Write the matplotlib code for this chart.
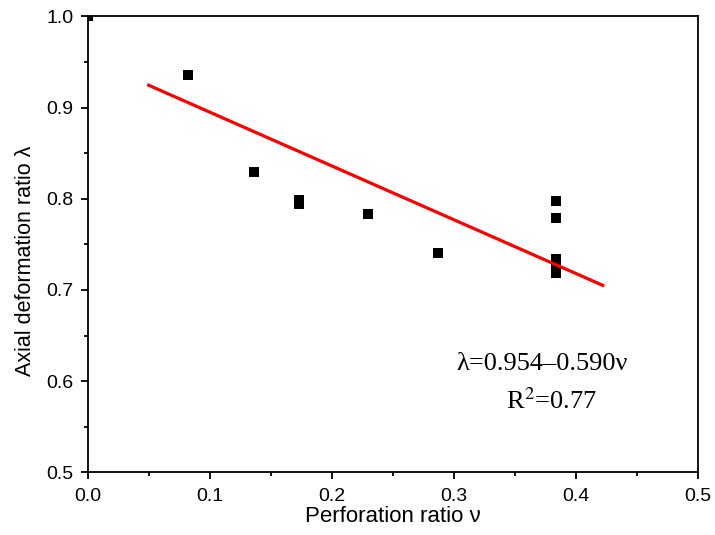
import matplotlib
matplotlib.use("Agg")
import matplotlib.pyplot as plt
import numpy as np
from matplotlib.ticker import MultipleLocator

# measured points (perforation ratio, axial deformation ratio)
nu = [0.0, 0.082, 0.136, 0.173, 0.173, 0.230, 0.287, 0.384, 0.384, 0.384, 0.384, 0.384]
lam = [1.0, 0.936, 0.829, 0.799, 0.794, 0.783, 0.741, 0.798, 0.779, 0.734, 0.725, 0.718]

# linear fit shown on the chart
fit_a, fit_b = 0.954, -0.590
fit_range = [0.05, 0.422]

plt.rcParams["font.family"] = ["Liberation Sans", "DejaVu Sans"]

fig = plt.figure(figsize=(7.15, 5.35), dpi=100)
ax = fig.add_axes([0.1224, 0.1172, 0.8538, 0.8523])

ax.plot(nu, lam, "s", color="black", markersize=6.5, markeredgewidth=0)
xf = np.array(fit_range)
ax.plot(xf, fit_a + fit_b * xf, color="red", lw=2.3)

ax.set_xlim(0, 0.5)
ax.set_ylim(0.5, 1.0)
ax.xaxis.set_major_locator(MultipleLocator(0.1))
ax.xaxis.set_minor_locator(MultipleLocator(0.05))
ax.yaxis.set_major_locator(MultipleLocator(0.1))
ax.yaxis.set_minor_locator(MultipleLocator(0.05))
ax.tick_params(which="both", direction="out", width=1.3, labelsize=14)
ax.tick_params(axis="x", which="both", pad=6)
ax.tick_params(axis="y", which="both", pad=5)
ax.tick_params(which="major", length=5)
ax.tick_params(which="minor", length=3)
for s in ax.spines.values():
    s.set_linewidth(1.3)

ax.set_xlabel("Perforation ratio \u03bd", fontsize=16, labelpad=1)
ax.set_ylabel("Axial deformation ratio \u03bb", fontsize=15.5)
ax.yaxis.set_label_coords(-0.085, 0.463)

ax.text(0.372, 0.612, "\u03bb=0.954\u20130.590\u03bd", fontsize=19, family="Liberation Serif",
        ha="center", va="baseline")
ax.text(0.380, 0.570, "R$^2$=0.77", fontsize=19, family="Liberation Serif",
        ha="center", va="baseline", math_fontfamily="stix")

fig.savefig("out.png", dpi=100)
